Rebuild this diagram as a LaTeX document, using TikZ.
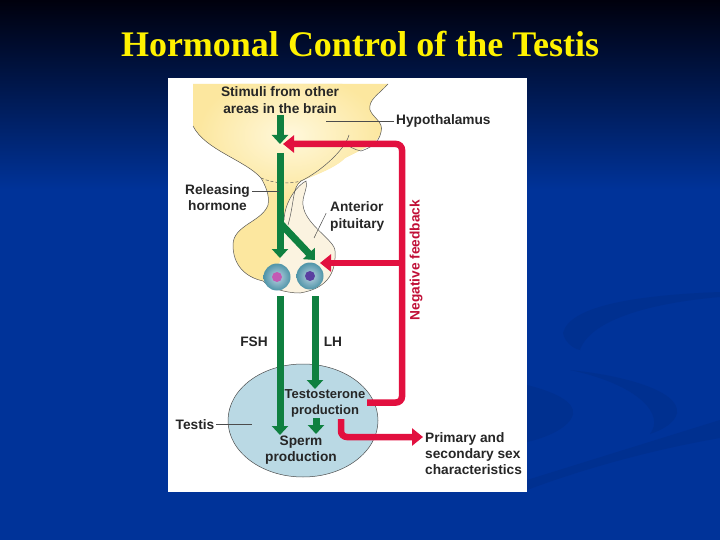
\documentclass[tikz,border=0pt]{standalone}
\usepackage{fontspec}
\setmainfont{Liberation Sans}
\newfontfamily\titlefont{Liberation Serif}
\usetikzlibrary{arrows.meta,shapes.geometric}
\definecolor{slideblue}{HTML}{003399}
\definecolor{swoosh}{HTML}{003090}
\definecolor{hormgreen}{HTML}{0F8040}
\definecolor{feedred}{HTML}{E2103F}
\definecolor{brainyellow}{HTML}{FCE79F}
\definecolor{brainpale}{HTML}{FFF8DC}
\definecolor{lobecream}{HTML}{FBF3E0}
\definecolor{testisblue}{HTML}{BAD9E4}
\definecolor{cellout}{HTML}{4F95A8}
\definecolor{cellin}{HTML}{BCD2E2}
\definecolor{fshpurple}{HTML}{C25AB4}
\definecolor{lhpurple}{HTML}{5A3FA0}
\begin{document}
\begin{tikzpicture}[x=1pt,y=-1pt]
  \tikzstyle{label}=[font=\fontsize{13.7}{16.3}\selectfont\bfseries,text=black!85,align=center,inner sep=0pt]
  \tikzstyle{leader}=[draw=black!70,line width=0.5pt,shorten <=2pt]
  \tikzstyle{outline}=[draw=black!65,line width=0.5pt]
  \tikzstyle{green arrow}=[draw=hormgreen,line width=7pt,-{Triangle[width=16pt,length=9pt]}]
  \tikzstyle{red arrow}=[draw=feedred,line width=6.5pt,rounded corners=6pt,-{Triangle[width=17pt,length=11pt]}]
  \tikzstyle{cell}=[circle,shade,inner color=cellin,outer color=cellout,minimum size=27pt,inner sep=0pt]
  \tikzstyle{nucleus}=[circle,minimum size=10pt,inner sep=0pt]
  \useasboundingbox (0,0) rectangle (720,540);
  \fill[slideblue] (0,0) rectangle (720,540);
  \shade[top color=black!95!blue,bottom color=slideblue] (0,0) rectangle (720,190);
  \fill[swoosh] (720,292) .. controls (640,295) and (570,305) .. (563,333) .. controls (565,342) and (572,348) .. (580,350) .. controls (590,320) and (650,303) .. (720,297) -- cycle;
  \fill[swoosh] (570,370) .. controls (620,375) and (680,390) .. (677,413) .. controls (675,423) and (662,430) .. (650,434) .. controls (665,415) and (640,385) .. (570,370) -- cycle;
  \fill[swoosh] (527,385) .. controls (555,392) and (575,402) .. (573,414) .. controls (570,428) and (545,438) .. (527,442) -- cycle;
  \fill[swoosh] (527,480) -- (720,420) -- (720,438) .. controls (650,450) and (580,470) .. (527,490) -- cycle;
  \fill[white] (168,78) rectangle (527,492);
  \begin{scope}
    \clip (193,84) -- (388,84) .. controls (378,95) and (368,100) .. (370,110) .. controls (373,118) and (384,122) .. (381,132) .. controls (379,143) and (360,150) .. (345,158) .. controls (335,168) and (315,175) .. (301,181) .. controls (292,188) and (295,200) .. (288,225) -- (335,251) .. controls (336,270) and (330,288) .. (300,293) .. controls (285,293) and (270,288) .. (263,281) .. controls (245,277) and (233,265) .. (233,245) .. controls (233,225) and (262,222) .. (268,205) .. controls (270,195) and (265,185) .. (261,178) .. controls (245,160) and (205,150) .. (193,126) -- cycle;
    \fill[brainyellow] (180,80) rectangle (400,300);
    \shade[inner color=brainpale,outer color=brainyellow] (290,135) ellipse (92pt and 62pt);
  \end{scope}
  \fill[lobecream] (306,181) .. controls (298,185) and (285,200) .. (284,220) -- (280,262) -- (263,281) .. controls (270,288) and (285,293) .. (300,293) .. controls (330,288) and (336,270) .. (335,251) .. controls (335,240) and (305,225) .. (303,205) .. controls (302,195) and (308,190) .. (306,181) -- cycle;
  \draw[outline] (388,84) .. controls (378,95) and (368,100) .. (370,110) .. controls (373,118) and (384,122) .. (381,132) .. controls (379,143) and (370,148) .. (361,151) .. controls (355,150) and (348,146) .. (345,143);
  \draw[outline] (349,135) .. controls (345,150) and (320,172) .. (301,181) .. controls (292,188) and (295,200) .. (288,225);
  \draw[outline] (193,126) .. controls (205,150) and (245,160) .. (261,178) .. controls (265,185) and (270,195) .. (268,205) .. controls (262,222) and (233,225) .. (233,245) .. controls (233,265) and (245,277) .. (263,281);
  \draw[outline,densely dashed] (261,178) .. controls (275,184) and (290,184) .. (301,181);
  \draw[outline] (284,220) .. controls (285,200) and (298,185) .. (306,181) .. controls (308,190) and (302,195) .. (303,205) .. controls (305,225) and (335,240) .. (335,251) .. controls (336,270) and (330,288) .. (300,293) .. controls (285,293) and (270,288) .. (263,281);
  \node[cell] (fshcell) at (277,277) {};
  \node[cell] (lhcell) at (310,276) {};
  \node[nucleus,fill=fshpurple] (fshnucleus) at (277,277) {};
  \node[nucleus,fill=lhpurple] (lhnucleus) at (310,276) {};
  \node[ellipse,draw=black!70,line width=0.5pt,fill=testisblue,minimum width=150pt,minimum height=113pt,inner sep=0pt] (testis) at (303,420.5) {};
  \coordinate (stimstart) at (280,115);
  \coordinate (stimend) at (280,144);
  \coordinate (relstart) at (280,153);
  \coordinate (relend) at (280,258);
  \coordinate (branch) at (280,223);
  \coordinate (branchend) at (315,260);
  \coordinate (fshstart) at (280,296);
  \coordinate (fshend) at (280,435);
  \coordinate (lhstart) at (315,296);
  \coordinate (lhend) at (315,389);
  \coordinate (spermstart) at (316,418);
  \coordinate (spermend) at (316,434);
  \draw[green arrow] (stimstart) -- (stimend);
  \draw[green arrow] (relstart) -- (relend);
  \draw[green arrow] (branch) -- (branchend);
  \draw[green arrow] (fshstart) -- (fshend);
  \draw[green arrow] (lhstart) -- (lhend);
  \draw[green arrow] (spermstart) -- (spermend);
  \coordinate (fbstart) at (367,402.5);
  \coordinate (fbcorner) at (402,402.5);
  \coordinate (fbtop) at (402,144);
  \coordinate (fbend) at (283,144);
  \coordinate (fbmid) at (402,263);
  \coordinate (fbpit) at (320,263);
  \coordinate (outstart) at (341,419);
  \coordinate (outcorner) at (341,437);
  \coordinate (outend) at (423,437);
  \draw[red arrow] (fbstart) -- (fbcorner) -- (fbtop) -- (fbend);
  \draw[red arrow,rounded corners=0pt] (fbmid) -- (fbpit);
  \draw[red arrow] (outstart) -- (outcorner) -- (outend);
  \node[font=\titlefont\bfseries\fontsize{36}{40}\selectfont,text=yellow] (title) at (360,44) {Hormonal Control of the Testis};
  \node[label] (stimuli) at (280,100) {Stimuli from other\\areas in the brain};
  \node[label,anchor=west] (hypothalamus) at (396,121) {Hypothalamus};
  \node[label] (releasing) at (217.5,197.5) {Releasing\\hormone};
  \node[label,anchor=west,align=left] (anterior) at (330,216.5) {Anterior\\pituitary};
  \node[label] (fsh) at (254,342) {FSH};
  \node[label] (lh) at (333,342) {LH};
  \node[label,font=\fontsize{13}{16.3}\selectfont\bfseries] (testosterone) at (325,403.5) {Testosterone\\production};
  \node[label] (sperm) at (301,450) {Sperm\\production};
  \node[label] (testislabel) at (195,424.5) {Testis};
  \node[label,anchor=west,align=left] (primary) at (425,453.5) {Primary and\\secondary sex\\characteristics};
  \node[label,text=feedred!85!black,rotate=90] (negative) at (416,260) {Negative feedback};
  \coordinate (hypoend) at (326,121);
  \coordinate (relleader) at (279,191);
  \coordinate (antend) at (314,238);
  \coordinate (testisend) at (252,424.5);
  \draw[leader] (hypothalamus.west) -- (hypoend);
  \draw[leader] (releasing.east |- relleader) -- (relleader);
  \draw[leader] (anterior.west) ++(-3,-5) -- (antend);
  \draw[leader] (testislabel.east) -- (testisend);
\end{tikzpicture}
\end{document}
